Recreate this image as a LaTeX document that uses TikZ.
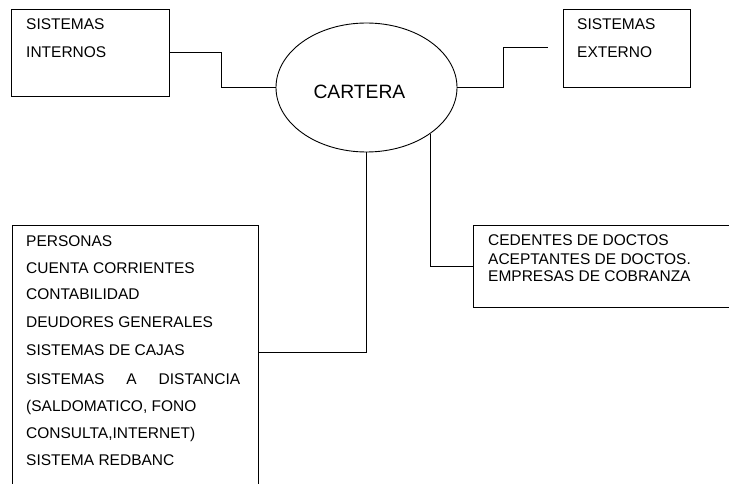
\documentclass[tikz,border=0pt]{standalone}
\usepackage{fontspec}
\setmainfont{Liberation Sans}
\usetikzlibrary{shapes.geometric}
\begin{document}
\begin{tikzpicture}[x=1pt,y=-1pt,
  box/.style={draw,line width=0.9pt,rectangle,inner sep=0pt,anchor=north west},
  lbl/.style={inner sep=0pt,anchor=base west,font=\fontsize{15.5}{18}\selectfont},
  conn/.style={line width=0.9pt}]
\useasboundingbox (0,0) rectangle (729,484);
\clip (0,0) rectangle (729,484);
% ellipse
\node[draw,ellipse,line width=0.9pt,minimum width=181pt,minimum height=129pt,inner sep=0pt] (cart) at (366.5,87.5) {};
\node[inner sep=0pt,anchor=base west,font=\fontsize{19.3}{22}\selectfont] (cartl) at (313.3,98.3) {CARTERA};
% boxes
\node[box,minimum width=158pt,minimum height=87pt] (int) at (11,9) {};
\node[box,minimum width=127pt,minimum height=78pt] (ext) at (563,9) {};
\node[box,minimum width=246pt,minimum height=290pt] (pers) at (12,225) {};
\node[box,minimum width=280pt,minimum height=82pt] (ced) at (473,225) {};
% texts
\node[lbl] (t1a) at (26,30) {SISTEMAS};
\node[lbl] (t1b) at (26,58) {INTERNOS};
\node[lbl] (t2a) at (577,30) {SISTEMAS};
\node[lbl] (t2b) at (577,58) {EXTERNO};
\node[lbl] (p1) at (26,246.7) {PERSONAS};
\node[lbl] (p2) at (26,273.3) {CUENTA CORRIENTES};
\node[lbl] (p3) at (26,299) {CONTABILIDAD};
\node[lbl] (p4) at (26,327.7) {DEUDORES GENERALES};
\node[lbl] (p5) at (26,355) {SISTEMAS DE CAJAS};
\node[lbl] (p6) at (26,384.3) {\makebox[214pt][s]{SISTEMAS\hfill A\hfill DISTANCIA}};
\node[lbl] (p7) at (26,411.7) {(SALDOMATICO, FONO};
\node[lbl] (p8) at (26,438.3) {CONSULTA,INTERNET)};
\node[lbl] (p9) at (26,465.7) {SISTEMA REDBANC};
\node[lbl] (c1) at (488,246) {CEDENTES DE DOCTOS};
\node[lbl] (c2) at (488,264) {ACEPTANTES DE DOCTOS.};
\node[lbl] (c3) at (488,281.7) {EMPRESAS DE COBRANZA};
% connectors
\coordinate (extend) at (548,47);
\draw[conn] (int.east) -- ++(52,0) |- (cart.west);
\draw[conn] (cart.east) -- ++(46,0) |- (extend);
\draw[conn] (cart.south) |- ([yshift=-127pt]pers.north east);
\draw[conn] (cart.-36.6) |- (ced.west);
\end{tikzpicture}
\end{document}
